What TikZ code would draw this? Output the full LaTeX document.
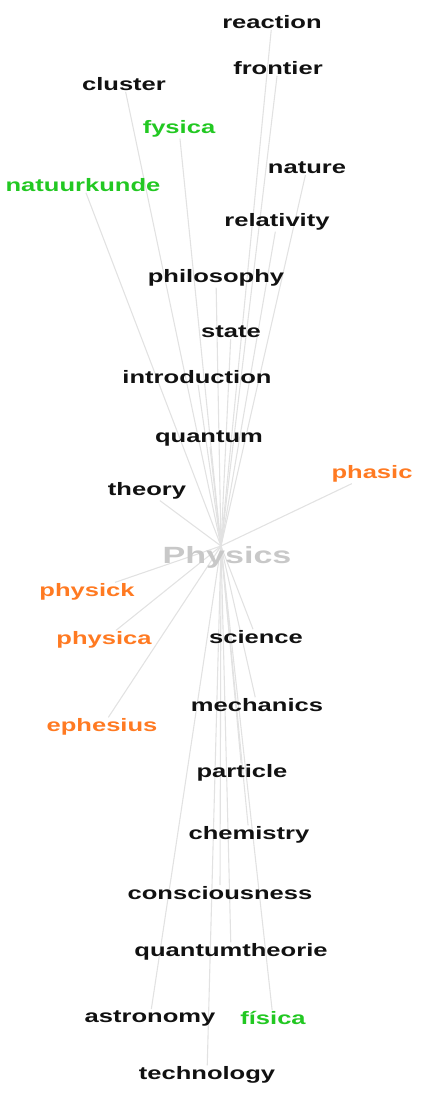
\documentclass[tikz,border=0pt]{standalone}
\usepackage{fontspec}
\usetikzlibrary{backgrounds}
\newfontfamily\wordfont{Liberation Sans Bold}[FakeStretch=1.42]
\newfontfamily\hubfont{Liberation Sans Bold}[FakeStretch=1.45]
\definecolor{wordblack}{RGB}{17,17,17}
\definecolor{wordgreen}{RGB}{34,200,34}
\definecolor{wordorange}{RGB}{255,122,34}
\definecolor{hubgray}{RGB}{200,200,200}
\definecolor{linkgray}{RGB}{226,226,226}
\tikzset{
  word/.style={font=\wordfont\fontsize{18}{18}\selectfont, text=wordblack, inner sep=1pt},
  green word/.style={word, text=wordgreen},
  orange word/.style={word, text=wordorange},
  hub word/.style={font=\hubfont\fontsize{23.5}{23.5}\selectfont, text=hubgray, inner sep=1pt},
  link/.style={draw=linkgray, line width=1.1pt}
}
\begin{document}
\begin{tikzpicture}[x=1pt, y=-1pt]
    \useasboundingbox (0,0) rectangle (443,1096);

    % Centre word
    \node[hub word] (physics) at (227, 557) {Physics};
    \coordinate (hub) at (221, 546);

    % Words above
    \node[word] (reaction) at (272, 22) {reaction};
    \node[word] (frontier) at (278, 68) {frontier};
    \node[word] (cluster) at (124, 84) {cluster};
    \node[green word] (fysica) at (179, 129) {fysica};
    \node[word] (nature) at (307, 168) {nature};
    \node[green word] (natuurkunde) at (83, 185) {natuurkunde};
    \node[word] (relativity) at (277, 222) {relativity};
    \node[word] (philosophy) at (216, 278) {philosophy};
    \node[word] (state) at (231, 332) {state};
    \node[word] (introduction) at (197, 377) {introduction};
    \node[word] (quantum) at (209, 438) {quantum};
    \node[word] (theory) at (147, 491) {theory};
    \node[orange word] (phasic) at (372, 474) {phasic};

    % Words below
    \node[orange word] (physick) at (87, 592) {physick};
    \node[orange word] (physica) at (104, 640) {physica};
    \node[word] (science) at (256, 637) {science};
    \node[word] (mechanics) at (257, 705) {mechanics};
    \node[orange word] (ephesius) at (102, 727) {ephesius};
    \node[word] (particle) at (242, 773) {particle};
    \node[word] (chemistry) at (249, 835) {chemistry};
    \node[word] (consciousness) at (220, 893) {consciousness};
    \node[word] (quantumtheorie) at (231, 952) {quantumtheorie};
    \node[word] (astronomy) at (150, 1018) {astronomy};
    \node[green word] (fisica) at (273, 1018) {física};
    \node[word] (technology) at (207, 1075) {technology};

    % Links
    \begin{scope}[on background layer]
    \draw[link] (hub) -- (reaction);
    \draw[link] (hub) -- (frontier);
    \draw[link] (hub) -- (cluster);
    \draw[link] (hub) -- (fysica);
    \draw[link] (hub) -- (nature);
    \draw[link] (hub) -- (natuurkunde);
    \draw[link] (hub) -- (relativity);
    \draw[link] (hub) -- (philosophy);
    \draw[link] (hub) -- (state);
    \draw[link] (hub) -- (introduction);
    \draw[link] (hub) -- (quantum);
    \draw[link] (hub) -- (theory);
    \draw[link] (hub) -- (phasic);
    \draw[link] (hub) -- (physick);
    \draw[link] (hub) -- (physica);
    \draw[link] (hub) -- (science);
    \draw[link] (hub) -- (mechanics);
    \draw[link] (hub) -- (ephesius);
    \draw[link] (hub) -- (particle);
    \draw[link] (hub) -- (chemistry);
    \draw[link] (hub) -- (consciousness);
    \draw[link] (hub) -- (quantumtheorie);
    \draw[link] (hub) -- (astronomy);
    \draw[link] (hub) -- (fisica);
    \draw[link] (hub) -- (technology);
    \end{scope}

\end{tikzpicture}
\end{document}
